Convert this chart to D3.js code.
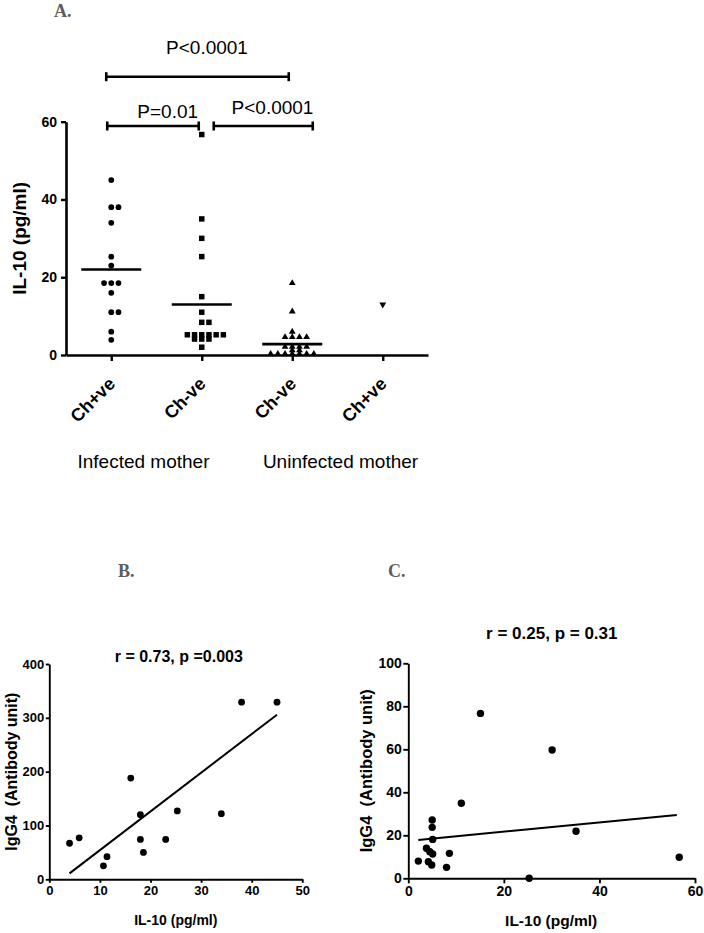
<!DOCTYPE html>
<html><head><meta charset="utf-8">
<script src="https://cdn.jsdelivr.net/npm/d3@7"></script>
<style>
body{margin:0;background:#fff;}
svg{display:block;font-family:"Liberation Sans",Arial,sans-serif;}
</style></head><body>
<svg id="c" width="704" height="933"></svg>
<script>
// ---------- DATA ----------
// Panel A: IL-10 (pg/ml) per child group
const categories = ["Ch+ve", "Ch-ve", "Ch-ve", "Ch+ve"];
const motherGroups = ["Infected mother", "Uninfected mother"];
const infectedChPos = [45, 38, 38, 34, 25.3, 23, 18.5, 18.5, 18.5, 16, 11, 11, 6, 3.9];
const infectedChNeg = [56.7, 35, 30, 25.3, 15, 11, 8.4, 8.4, 5.2, 5.2, 5.2, 5.2, 5.2, 5.2, 4.1, 4.1, 4.1, 2];
const uninfectedChNeg = [18.5, 11.2, 6, 4.6, 4.6, 4.6, 4.6, 2.1, 2.1, 2.1, 2.1, 1.2, 1.2, 0.3, 0.3, 0.3, 0.3, 0.3, 0.3, 0.3];
const uninfectedChPos = [13];
const groupMeans = [22, 13, 2.8, null];
const pComparisons = [[0, 2], [0, 1], [1, 2]];
const pLabels = ["P<0.0001", "P=0.01", "P<0.0001"];
const aTicks = [0, 20, 40, 60];

// Panel B: infected mother, Ch+ve
const bIL10 = [4.0, 5.9, 10.7, 11.4, 16.1, 18.0, 18.0, 18.6, 23.0, 25.3, 34.0, 38.0, 45.0];
const bIgG4 = [67, 77, 25, 42, 188, 120, 74, 50, 74, 127, 122, 329, 329];
const bFit = [7.19, -17.7];          // slope, intercept
const bTitle = "r = 0.73, p =0.003";
const bXTicks = [0, 10, 20, 30, 40, 50];
const bYTicks = [0, 100, 200, 300, 400];

// Panel C: infected mother, Ch-ve
const cIL10 = [15.1, 30.1, 11.1, 35.1, 56.7, 25.3, 2.1, 3.8, 4.5, 5.1, 4.2, 4.9, 5.0, 5.0, 5.1, 8.6, 8.0];
const cIgG4 = [76.7, 59.7, 34.9, 21.9, 9.8, 0, 8.0, 14.0, 12.4, 11.3, 7.7, 6.2, 27.1, 23.7, 18.1, 11.6, 5.1];
const cFit = [0.216, 17.35];         // slope, intercept
const cTitle = "r = 0.25, p = 0.31";
const cXTicks = [0, 20, 40, 60];
const cYTicks = [0, 20, 40, 60, 80, 100];

const xLabel = "IL-10 (pg/ml)";
const yLabelA = "IL-10 (pg/ml)";
const yLabelBC = "IgG4  (Antibody unit)";

// ---------- DRAW ----------
const svg = d3.select("#c");
const BOLD = "bold";

function panelLetter(txt, x, y) {
  svg.append("text").attr("x", x).attr("y", y).text(txt)
    .attr("font-family", "'Liberation Serif','Times New Roman',serif")
    .attr("font-weight", "bold").attr("font-size", 18).attr("fill", "#5c5c5c");
}

// ---- Panel A ----
panelLetter("A.", 54, 17);
const ax = d3.scaleLinear().domain([-0.5, 3.5]).range([66, 428]);
const ay = d3.scaleLinear().domain([0, 60]).range([355, 121.7]);

const gA = svg.append("g");
const yAxA = gA.append("g").attr("transform", "translate(66,0)")
  .call(d3.axisLeft(ay).tickValues(aTicks).tickSize(5).tickPadding(4).tickSizeOuter(0));
yAxA.select(".domain").attr("stroke-width", 2.6);
yAxA.selectAll(".tick line").attr("stroke-width", 2.4);
yAxA.selectAll(".tick text").attr("font-size", 14).attr("font-weight", BOLD)
  .attr("font-family", "'Liberation Sans',Arial,sans-serif").attr("fill", "#000");

const xAxA = gA.append("g").attr("transform", "translate(0,355)")
  .call(d3.axisBottom(ax).tickValues([0, 1, 2, 3]).tickSize(6).tickFormat("").tickSizeOuter(0));
xAxA.select(".domain").attr("stroke-width", 2.6);
xAxA.selectAll(".tick line").attr("stroke-width", 2.4);

categories.forEach((c, i) => {
  gA.append("text").text(c)
    .attr("transform", `translate(${ax(i) + 5},385) rotate(-45)`)
    .attr("text-anchor", "end").attr("font-size", 18).attr("font-weight", BOLD);
});
gA.append("text").text(motherGroups[0]).attr("x", 143.5).attr("y", 468)
  .attr("text-anchor", "middle").attr("font-size", 19);
gA.append("text").text(motherGroups[1]).attr("x", 340.5).attr("y", 468)
  .attr("text-anchor", "middle").attr("font-size", 19);

gA.append("text").text(yLabelA)
  .attr("transform", `translate(26,${(ay(0) + ay(60)) / 2}) rotate(-90)`)
  .attr("text-anchor", "middle").attr("font-size", 19).attr("font-weight", BOLD);

function rowOffsets(values) {
  const counts = new Map();
  values.forEach(v => counts.set(v, (counts.get(v) || 0) + 1));
  const seen = new Map();
  return values.map(v => {
    const n = counts.get(v), k = seen.get(v) || 0;
    seen.set(v, k + 1);
    return k - Math.floor((n - 1) / 2);
  });
}
const slotW = 7.2;
const seriesA = [
  {vals: infectedChPos, sym: d3.symbolCircle, size: 26, rot: 0},
  {vals: infectedChNeg, sym: d3.symbolSquare, size: 30, rot: 0},
  {vals: uninfectedChNeg, sym: d3.symbolTriangle, size: 20, rot: 0},
  {vals: uninfectedChPos, sym: d3.symbolTriangle, size: 20, rot: 180}
];
seriesA.forEach((s, i) => {
  const offs = rowOffsets(s.vals);
  gA.append("g").selectAll("path").data(s.vals).join("path")
    .attr("d", d3.symbol().type(s.sym).size(s.size))
    .attr("transform", (d, j) => `translate(${ax(i) + offs[j] * slotW},${ay(d)}) rotate(${s.rot})`)
    .attr("fill", "#000");
  if (groupMeans[i] != null) {
    gA.append("line").attr("x1", ax(i) - 30).attr("x2", ax(i) + 30)
      .attr("y1", ay(groupMeans[i])).attr("y2", ay(groupMeans[i]))
      .attr("stroke", "#000").attr("stroke-width", 2.6);
  }
});

// significance brackets (layout per bracket)
const bracketLayout = [
  {y: 76.7, dx1: -5, dx2: -3.5, tx: 207, ty: 54},
  {y: 126, dx1: -4, dx2: -3, tx: 167.7, ty: 118},
  {y: 126, dx1: 12, dx2: 20.5, tx: 272.5, ty: 114}
];
pComparisons.forEach((p, k) => {
  const L = bracketLayout[k];
  const x1 = ax(p[0]) + L.dx1, x2 = ax(p[1]) + L.dx2;
  const g = gA.append("g").attr("stroke", "#000").attr("stroke-width", 2.6);
  g.append("line").attr("x1", x1).attr("x2", x2).attr("y1", L.y).attr("y2", L.y);
  g.append("line").attr("x1", x1).attr("x2", x1).attr("y1", L.y - 4.5).attr("y2", L.y + 4.5);
  g.append("line").attr("x1", x2).attr("x2", x2).attr("y1", L.y - 4.5).attr("y2", L.y + 4.5);
  gA.append("text").text(pLabels[k]).attr("x", L.tx).attr("y", L.ty)
    .attr("text-anchor", "middle").attr("font-size", 19);
});

// ---- Scatter panels ----
function scatter(opt) {
  const g = svg.append("g");
  const x = d3.scaleLinear().domain(opt.xDom).range(opt.xR);
  const y = d3.scaleLinear().domain(opt.yDom).range(opt.yR);
  const yA = g.append("g").attr("transform", `translate(${opt.xR[0]},0)`)
    .call(d3.axisLeft(y).tickValues(opt.yTicks).tickSize(opt.tick).tickPadding(1.5).tickSizeOuter(0));
  const xA = g.append("g").attr("transform", `translate(0,${opt.yR[0]})`)
    .call(d3.axisBottom(x).tickValues(opt.xTicks).tickSize(opt.tick).tickPadding(3).tickSizeOuter(0));
  [yA, xA].forEach(a => {
    a.select(".domain").attr("stroke-width", 1.9);
    a.selectAll(".tick line").attr("stroke-width", 1.9);
    a.selectAll(".tick text").attr("font-size", opt.tickFont).attr("font-weight", BOLD)
      .attr("font-family", "'Liberation Sans',Arial,sans-serif").attr("fill", "#000");
  });
  g.append("text").text(opt.title).attr("x", opt.titleX).attr("y", opt.titleY)
    .attr("text-anchor", "middle").attr("font-size", opt.titleFont).attr("font-weight", BOLD);
  g.append("text").text(xLabel).attr("x", (opt.xR[0] + opt.xR[1]) / 2 + opt.xLabDx).attr("y", opt.xLabY)
    .attr("text-anchor", "middle").attr("font-size", opt.xLabFont).attr("font-weight", BOLD);
  g.append("text").text(yLabelBC)
    .attr("transform", `translate(${opt.yLabX},${(opt.yR[0] + opt.yR[1]) / 2}) rotate(-90)`)
    .attr("text-anchor", "middle").attr("font-size", opt.yLabFont).attr("font-weight", BOLD)
    .attr("xml:space", "preserve").style("white-space", "pre");
  const [m, b] = opt.fit;
  const x0 = d3.min(opt.xs), x1 = opt.fitEnd != null ? opt.fitEnd : d3.max(opt.xs);
  g.append("line").attr("x1", x(x0)).attr("y1", y(m * x0 + b)).attr("x2", x(x1)).attr("y2", y(m * x1 + b))
    .attr("stroke", "#000").attr("stroke-width", 2);
  g.append("g").selectAll("circle").data(opt.xs).join("circle")
    .attr("cx", d => x(d)).attr("cy", (d, i) => y(opt.ys[i])).attr("r", opt.r).attr("fill", "#000");
}

panelLetter("B.", 118, 577);
scatter({
  xs: bIL10, ys: bIgG4, fit: bFit, title: bTitle,
  xDom: [0, 50], yDom: [0, 400], xR: [49.3, 302.3], yR: [879.3, 664],
  xTicks: bXTicks, yTicks: bYTicks, tick: 3.5, tickFont: 13,
  titleX: 178.8, titleY: 662, titleFont: 16,
  xLabY: 925, xLabFont: 14, xLabDx: 0, yLabX: 17, yLabFont: 16, r: 3.4
});

panelLetter("C.", 388, 577);
scatter({
  xs: cIL10, ys: cIgG4, fit: cFit, title: cTitle, fitEnd: 56.2,
  xDom: [0, 60], yDom: [0, 100], xR: [408.3, 695], yR: [878.3, 663.3],
  xTicks: cXTicks, yTicks: cYTicks, tick: 5, tickFont: 14,
  titleX: 551.8, titleY: 639, titleFont: 17,
  xLabY: 925.5, xLabFont: 15.5, xLabDx: -0.5, yLabX: 372, yLabFont: 16.5, r: 3.7
});
</script>
</body></html>
